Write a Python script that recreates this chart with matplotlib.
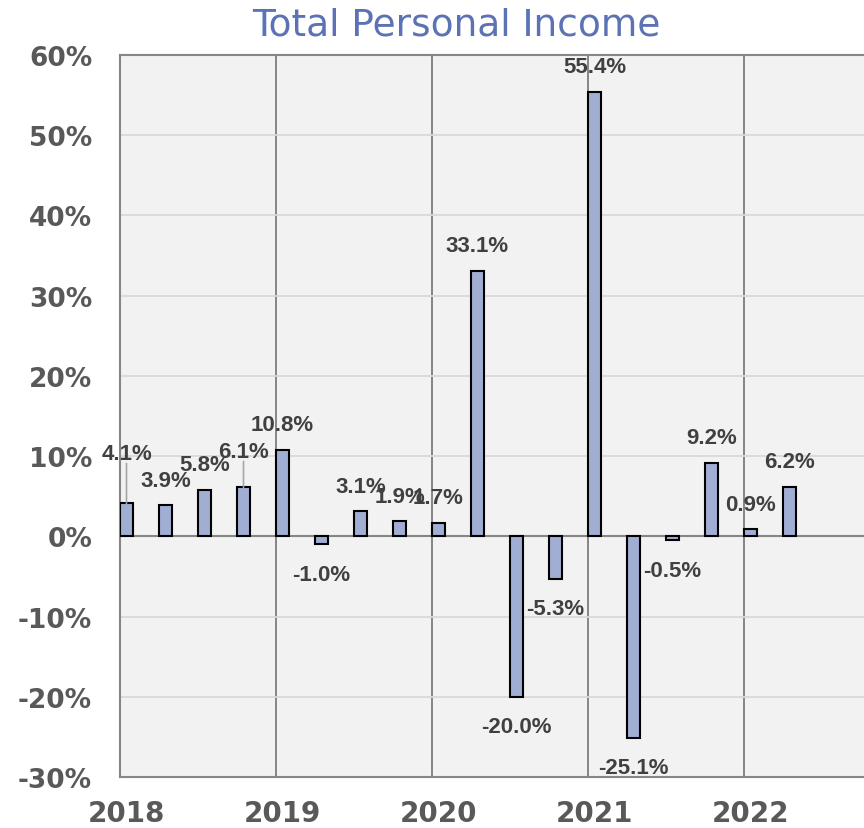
import matplotlib
matplotlib.use("Agg")
import matplotlib.pyplot as plt
from matplotlib.ticker import FixedLocator, NullFormatter

# ---------------------------------------------------------------------------
# data: quarterly change, 2018Q1 .. 2022Q2
# ---------------------------------------------------------------------------
years = [2018, 2019, 2020, 2021, 2022]
values = [4.1, 3.9, 5.8, 6.1,
          10.8, -1.0, 3.1, 1.9,
          1.7, 33.1, -20.0, -5.3,
          55.4, -25.1, -0.5, 9.2,
          0.9, 6.2]
value_labels = ["4.1%", "3.9%", "5.8%", "6.1%",
                "10.8%", "-1.0%", "3.1%", "1.9%",
                "1.7%", "33.1%", "-20.0%", "-5.3%",
                "55.4%", "-25.1%", "-0.5%", "9.2%",
                "0.9%", "6.2%"]
y_ticks = [-30, -20, -10, 0, 10, 20, 30, 40, 50, 60]

# ---------------------------------------------------------------------------
# style
# ---------------------------------------------------------------------------
W, H, DPI = 864, 829, 100
BAR_COLOR = "#a0aed3"
PLOT_BG = "#f2f2f2"
FRAME_GRAY = "#868686"
GRID_LIGHT = "#d9d9d9"
TICK_GRAY = "#595959"
LABEL_GRAY = "#404040"
TITLE_BLUE = "#5b72b4"

BAR_W = 13 / 156          # in years
STEP = 0.25
LABEL_UP = 25             # px above positive bars
LABEL_DOWN = 30           # px below negative bars
# labels lifted higher with a leader line (index -> px above bar top)
LEADER = {0: 50, 3: 36}

fig = plt.figure(figsize=(W / DPI, H / DPI), dpi=DPI)
ax = fig.add_axes([120 / W, 1 - 778 / H, 1 - 120 / W, (778 - 56) / H])
ax.set_facecolor(PLOT_BG)

x = [years[0] + i * STEP for i in range(len(values))]
ax.bar(x, values, width=BAR_W, align="edge", color=BAR_COLOR,
       edgecolor="black", linewidth=1.5, zorder=3)

ax.set_xlim(years[0], years[0] + (W - 120) / 156)
ax.set_ylim(-30, 60)

# gridlines
ax.set_yticks(y_ticks)
ax.set_yticklabels([f"{v}%" for v in y_ticks])
ax.yaxis.grid(True, color=GRID_LIGHT, linewidth=1.3, zorder=0)
ax.axhline(0, color=FRAME_GRAY, linewidth=1.5, zorder=2)

ax.xaxis.set_major_locator(FixedLocator(years))
ax.xaxis.set_major_formatter(NullFormatter())
ax.xaxis.grid(True, which="major", color=FRAME_GRAY, linewidth=1.4, zorder=1)
ax.xaxis.set_minor_locator(FixedLocator([y + BAR_W / 2 for y in years]))
ax.set_xticklabels([str(y) for y in years], minor=True)

ax.tick_params(axis="both", which="both", length=0)
ax.tick_params(axis="y", pad=20, labelsize=19, labelcolor=TICK_GRAY)
ax.tick_params(axis="x", which="minor", pad=16, labelsize=20,
               labelcolor=TICK_GRAY)
for lab in ax.get_yticklabels() + ax.get_xticklabels(minor=True):
    lab.set_fontweight("bold")
    lab.set_fontfamily("DejaVu Sans")

for side in ["left", "bottom", "top"]:
    ax.spines[side].set_color(FRAME_GRAY)
    ax.spines[side].set_linewidth(1.5)
ax.spines["right"].set_visible(False)

# data labels
for i, (xi, v, s) in enumerate(zip(x, values, value_labels)):
    cx = xi + BAR_W / 2
    if i in LEADER:
        dy = LEADER[i]
        ax.annotate("", xy=(cx, v), xytext=(0, dy - 10),
                    textcoords="offset pixels",
                    arrowprops=dict(arrowstyle="-", color="#a6a6a6", lw=1.2,
                                    shrinkA=0, shrinkB=0), zorder=4)
    else:
        dy = LABEL_UP if v >= 0 else -LABEL_DOWN
    ax.annotate(s, xy=(cx, v), xytext=(0, dy), textcoords="offset pixels",
                ha="center", va="center", fontsize=16, fontweight="bold",
                family="Liberation Sans", color=LABEL_GRAY, zorder=5,
                annotation_clip=False)

fig.text(456 / W, 1 - 25 / H, "Total Personal Income", ha="center",
         va="center", fontsize=27, color=TITLE_BLUE, family="DejaVu Sans")

fig.savefig("out.png", dpi=DPI)
